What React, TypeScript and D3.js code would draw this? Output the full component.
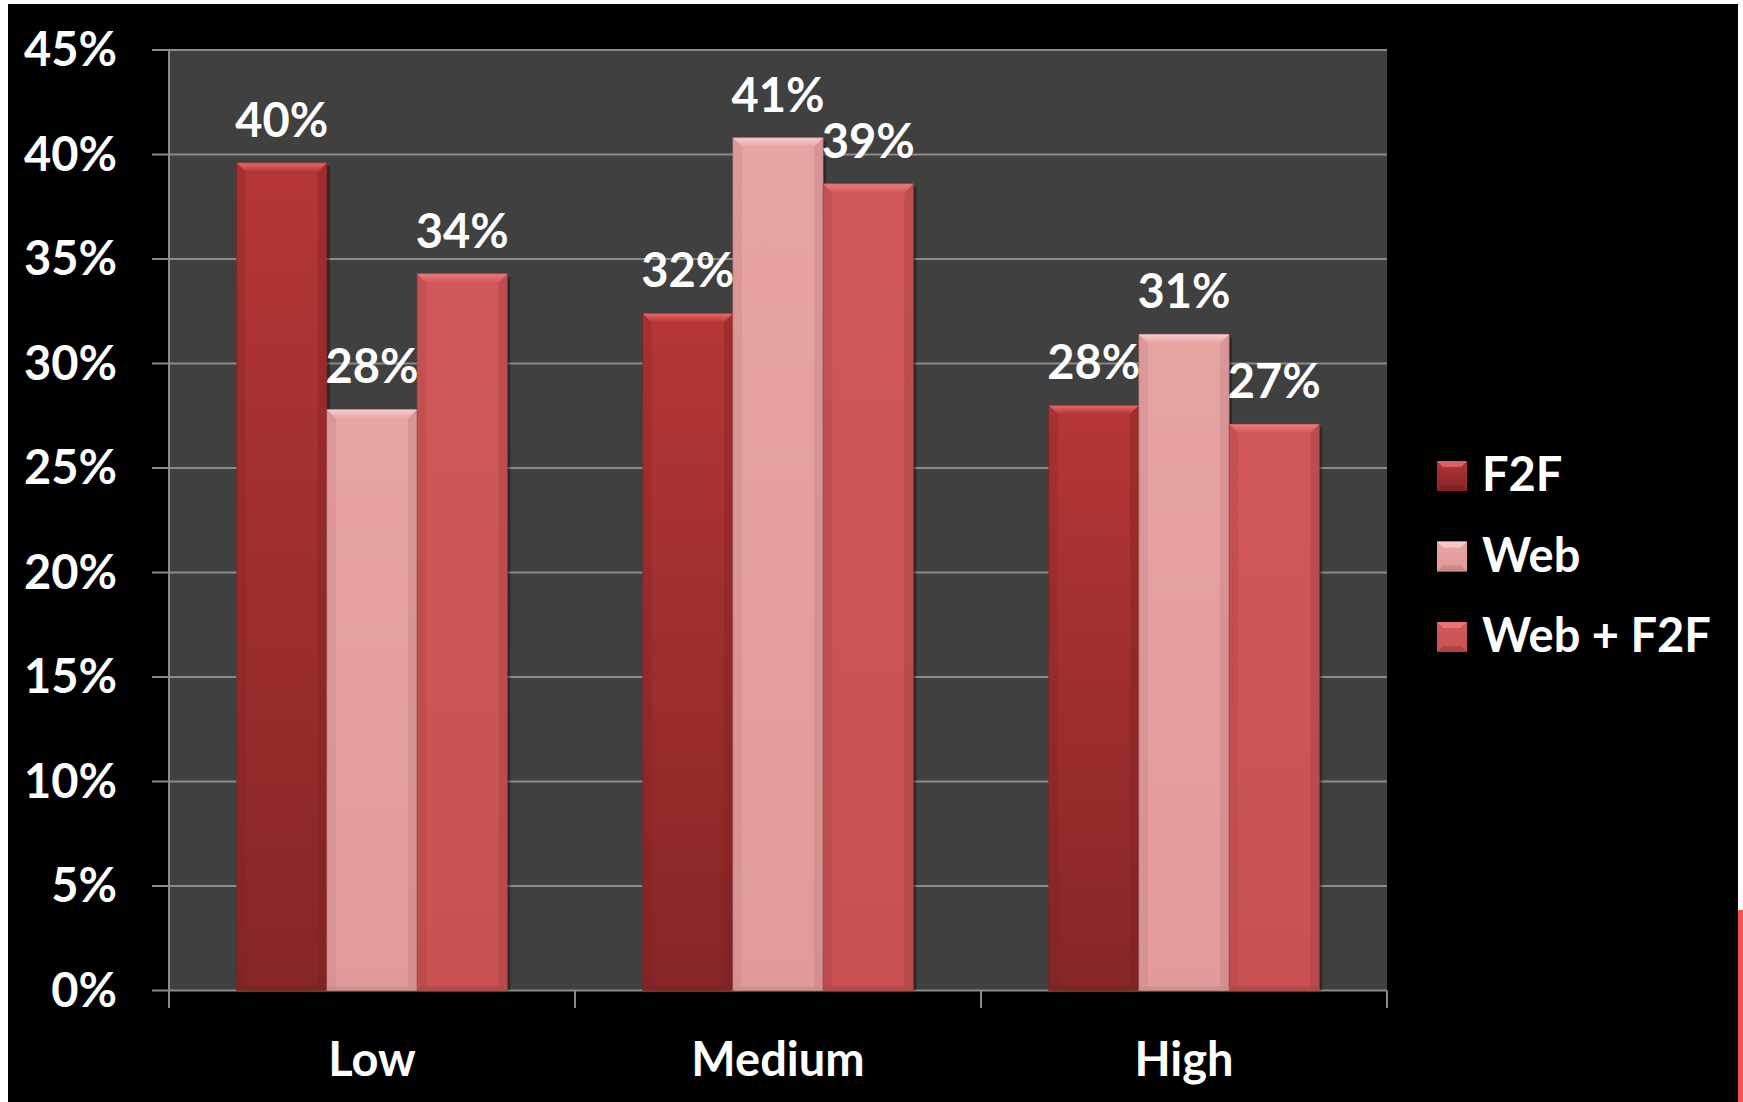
import React from "react";
import * as d3 from "d3";

const categories = ["Low", "Medium", "High"];
const seriesNames = ["F2F", "Web", "Web + F2F"];
const f2fValues = [39.6, 32.4, 28.0];
const webValues = [27.8, 40.8, 31.4];
const webF2fValues = [34.3, 38.6, 27.1];
const yTicks = [0, 5, 10, 15, 20, 25, 30, 35, 40, 45];

const seriesValues = [f2fValues, webValues, webF2fValues];

const W = 1743;
const H = 1102;
const FONT = "Lato, 'Open Sans', sans-serif";

const palette = [
  { top: "#b53636", bottom: "#862626", bevel: "#e86a6a", edge: "#7a1f1f" },
  { top: "#e8a3a3", bottom: "#e29b9b", bevel: "#f7cfcf", edge: "#b97a7a" },
  { top: "#d05858", bottom: "#c85252", bevel: "#ef7c7c", edge: "#9e3c3c" },
];

export default function App() {
  const x = d3.scaleBand<string>().domain(categories).range([169, 1387]).paddingInner(0).paddingOuter(0);
  const xs = d3.scaleBand<string>().domain(seriesNames).range([0, x.bandwidth()]).paddingInner(0).paddingOuter(0.75);
  const y = d3.scaleLinear().domain([0, 45]).range([990.5, 50]);
  const fmt = (v: number) => d3.format(".0f")(v) + "%";
  const b = 9;

  const bars: React.ReactNode[] = [];
  const labels: React.ReactNode[] = [];
  categories.forEach((c, ci) => {
    seriesNames.forEach((s, si) => {
      const v = seriesValues[si][ci];
      const bx = (x(c) as number) + (xs(s) as number);
      const bw = xs.bandwidth();
      const by = y(v);
      const bh = y(0) - by;
      const p = palette[si];
      bars.push(
        <g key={`b-${ci}-${si}`}>
          <rect x={bx + 3} y={by + 3} width={bw} height={bh - 3} fill="#000" opacity={0.35} />
          <rect x={bx} y={by} width={bw} height={bh} fill={`url(#grad${si})`} />
          <polygon
            points={`${bx},${by} ${bx + b},${by + b} ${bx + b},${by + bh - 4} ${bx},${by + bh}`}
            fill={p.edge}
            opacity={0.25}
          />
          <polygon
            points={`${bx + bw},${by} ${bx + bw - b},${by + b} ${bx + bw - b},${by + bh - 4} ${bx + bw},${by + bh}`}
            fill={p.edge}
            opacity={0.35}
          />
          <polygon
            points={`${bx},${by + bh} ${bx + bw},${by + bh} ${bx + bw - 4},${by + bh - 4} ${bx + 4},${by + bh - 4}`}
            fill={p.edge}
            opacity={0.4}
          />
          <polygon
            points={`${bx},${by} ${bx + bw},${by} ${bx + bw - b},${by + b} ${bx + b},${by + b}`}
            fill={`url(#bevel${si})`}
          />
          <rect x={bx} y={by} width={bw} height={bh} fill="none" stroke={p.edge} strokeOpacity={0.5} strokeWidth={1} />
        </g>
      );
      labels.push(
        <text
          key={`l-${ci}-${si}`}
          x={bx + bw / 2}
          y={by - 26}
          textAnchor="middle"
          fill="#fff"
          fontFamily={FONT}
          fontWeight={700}
          fontSize={47}
        >
          {fmt(v)}
        </text>
      );
    });
  });

  return (
    <div style={{ position: "fixed", left: 0, top: 0, width: W, height: H }}>
      <svg width={W} height={H} style={{ display: "block" }}>
        <defs>
          {palette.map((p, i) => (
            <linearGradient key={`g${i}`} id={`grad${i}`} x1="0" y1="0" x2="0" y2="1">
              <stop offset="0" stopColor={p.top} />
              <stop offset="1" stopColor={p.bottom} />
            </linearGradient>
          ))}
          {palette.map((p, i) => (
            <linearGradient key={`bv${i}`} id={`bevel${i}`} x1="0" y1="0" x2="0" y2="1">
              <stop offset="0" stopColor={p.bevel} />
              <stop offset="1" stopColor={p.top} />
            </linearGradient>
          ))}
        </defs>
        <rect x={0} y={0} width={W} height={H} fill="#fff" />
        <rect x={8} y={4} width={1730} height={H - 4} fill="#000" />
        <rect x={1738} y={910} width={5} height={H - 910} fill="#f05252" />
        <rect x={169} y={50} width={1387 - 169} height={y(0) - 50} fill="#404040" />
        {yTicks.map((t) => (
          <line key={`g${t}`} x1={152} x2={1387} y1={y(t)} y2={y(t)} stroke="#8a8a8a" strokeWidth={2} />
        ))}
        <line x1={169} x2={169} y1={50} y2={1008} stroke="#8a8a8a" strokeWidth={2} />
        {categories.map((c, i) => (
          <line key={`t${i}`} x1={(x(c) as number) + x.bandwidth()} x2={(x(c) as number) + x.bandwidth()} y1={y(0)} y2={1008} stroke="#8a8a8a" strokeWidth={2} />
        ))}
        {yTicks.map((t) => (
          <text
            key={`yl${t}`}
            x={117}
            y={y(t) + 16}
            textAnchor="end"
            fill="#fff"
            fontFamily={FONT}
            fontWeight={700}
            fontSize={47}
          >
            {t}%
          </text>
        ))}
        {bars}
        {labels}
        {categories.map((c) => (
          <text
            key={`xl${c}`}
            x={(x(c) as number) + x.bandwidth() / 2}
            y={1076}
            textAnchor="middle"
            fill="#fff"
            fontFamily={FONT}
            fontWeight={700}
            fontSize={47}
          >
            {c}
          </text>
        ))}
        {seriesNames.map((s, i) => (
          <g key={`lg${i}`}>
            <rect x={1437} y={461 + i * 80.5} width={30} height={30} fill={`url(#grad${i})`} />
            <polygon
              points={`1437,${461 + i * 80.5} 1467,${461 + i * 80.5} 1461,${467 + i * 80.5} 1443,${467 + i * 80.5}`}
              fill={palette[i].bevel}
              opacity={0.8}
            />
            <polygon
              points={`1437,${491 + i * 80.5} 1467,${491 + i * 80.5} 1461,${485 + i * 80.5} 1443,${485 + i * 80.5}`}
              fill={palette[i].edge}
              opacity={0.6}
            />
            <text x={1482} y={491 + i * 80.5} fill="#fff" fontFamily={FONT} fontWeight={700} fontSize={47}>
              {s}
            </text>
          </g>
        ))}
      </svg>
    </div>
  );
}
